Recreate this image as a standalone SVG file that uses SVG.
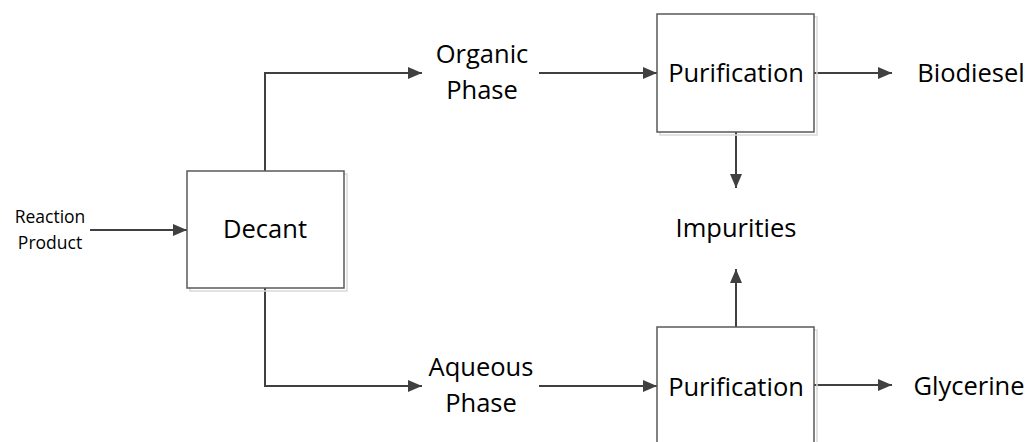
<svg xmlns="http://www.w3.org/2000/svg" width="1030" height="442" viewBox="0 0 1030 442">
<style>
.box{fill:#fff;stroke:#595959;stroke-width:1.5}
.shadow{fill:none;stroke:#d9d9d9;stroke-width:1.5}
.lbl{font-family:"Open Sans","Liberation Sans",sans-serif;font-size:25.5px;fill:#000;text-anchor:middle}
.small{font-family:"Open Sans","Liberation Sans",sans-serif;font-size:17.5px;fill:#000;text-anchor:middle}
.con{fill:none;stroke:#404040;stroke-width:2}
</style>
<defs>
<marker id="arr" viewBox="0 0 14 12" refX="14" refY="6" markerWidth="14" markerHeight="12" markerUnits="userSpaceOnUse" orient="auto">
<path d="M0,0 L14,6 L0,12 z" fill="#404040"/>
</marker>
</defs>
<g id="connectors">
<path class="con" d="M90,230 L187,230" marker-end="url(#arr)"/>
<path class="con" d="M265,171 L265,73 L422,73" marker-end="url(#arr)"/>
<path class="con" d="M265,288 L265,386 L422,386" marker-end="url(#arr)"/>
<path class="con" d="M539,73 L657,73" marker-end="url(#arr)"/>
<path class="con" d="M539,386 L657,386" marker-end="url(#arr)"/>
<path class="con" d="M814,73 L892,73" marker-end="url(#arr)"/>
<path class="con" d="M814,385 L892,385" marker-end="url(#arr)"/>
<path class="con" d="M736,132 L736,188" marker-end="url(#arr)"/>
<path class="con" d="M736,327 L736,269" marker-end="url(#arr)"/>
</g>
<g id="reaction-product">
<text class="small" x="50" y="223">Reaction</text>
<text class="small" x="50" y="249">Product</text>
</g>
<g id="decant">
<rect class="shadow" x="190" y="174" width="157" height="117"/>
<rect class="box" x="187" y="171" width="157" height="117"/>
<text class="lbl" x="265" y="238">Decant</text>
</g>
<g id="organic-phase">
<text class="lbl" x="482" y="63">Organic</text>
<text class="lbl" x="482" y="99">Phase</text>
</g>
<g id="aqueous-phase">
<text class="lbl" x="481" y="376">Aqueous</text>
<text class="lbl" x="481" y="412">Phase</text>
</g>
<g id="purification-top">
<rect class="shadow" x="660" y="17" width="157" height="118"/>
<rect class="box" x="657" y="14" width="157" height="118"/>
<text class="lbl" x="736" y="82">Purification</text>
</g>
<g id="purification-bottom">
<rect class="shadow" x="660" y="330" width="157" height="118"/>
<rect class="box" x="657" y="327" width="157" height="118"/>
<text class="lbl" x="736" y="396">Purification</text>
</g>
<g id="impurities">
<text class="lbl" x="736" y="237">Impurities</text>
</g>
<g id="biodiesel">
<text class="lbl" x="971" y="82">Biodiesel</text>
</g>
<g id="glycerine">
<text class="lbl" x="969" y="395">Glycerine</text>
</g>
</svg>
